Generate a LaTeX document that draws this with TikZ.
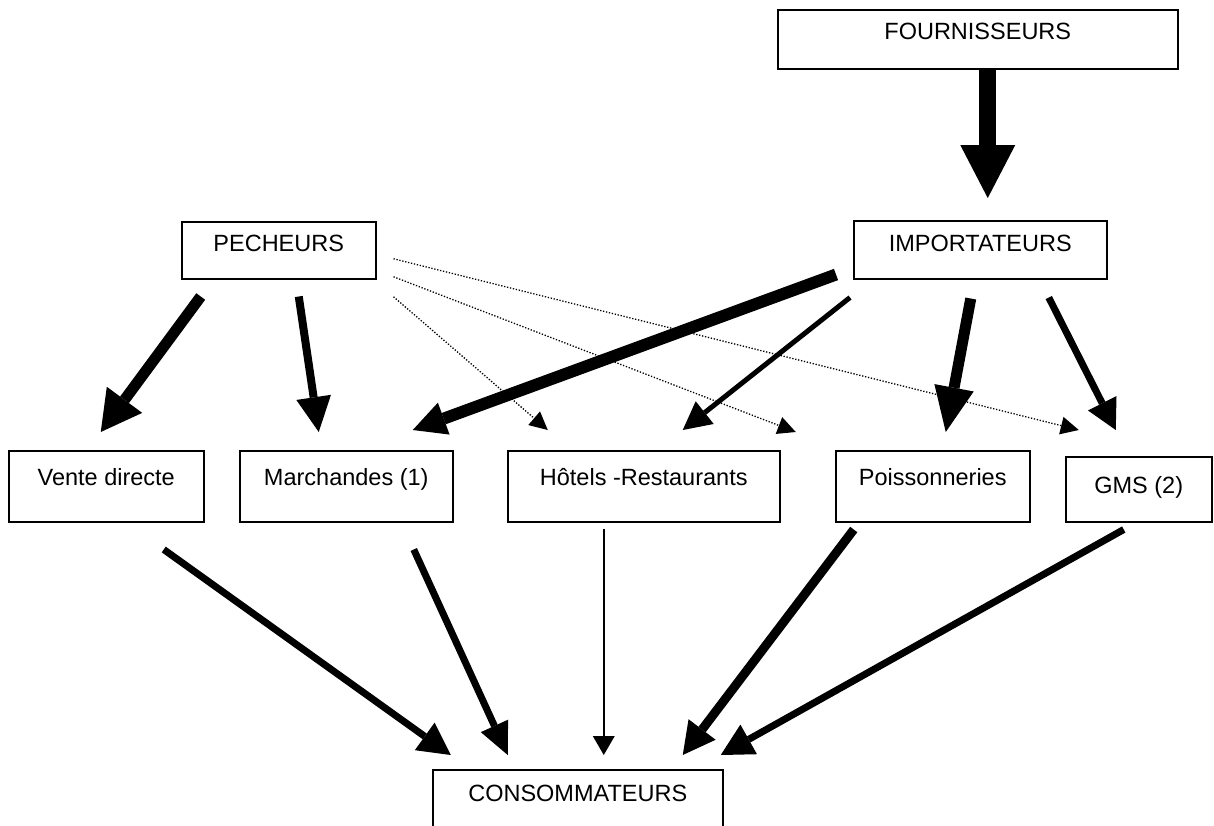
\documentclass[tikz,border=0pt]{standalone}
\usepackage{fontspec}
\setmainfont{Liberation Sans}
\usetikzlibrary{arrows.meta,calc}

\begin{document}
\begin{tikzpicture}[x=1pt,y=1pt,yscale=-1,xscale=1,
  box/.style={draw, line width=1.5pt, inner sep=0pt, anchor=north west, font=\fontsize{23.5}{28}\selectfont},
  flow/.style n args={3}{line width=#1pt, -{Triangle[length=#2pt,width=#3pt,line width=0pt]}},
  weak/.style={line width=1.3pt, dash pattern=on 1.3pt off 1.7pt, -{Triangle[length=18pt,width=18pt,line width=0pt]}}]
\useasboundingbox (0,0) rectangle (1214,825);

% Text Node
\node [box, minimum width=400pt, text height=29.5pt, text depth=29.5pt] (four) at (777,9) {FOURNISSEURS};
% Text Node
\node [box, minimum width=194pt, text height=29.5pt, text depth=27.5pt] (pech) at (181,221) {PECHEURS};
% Text Node
\node [box, minimum width=253pt, text height=30.5pt, text depth=27.5pt] (impo) at (853,220) {IMPORTATEURS};
% Text Node
\node [box, minimum width=195pt, text height=34.5pt, text depth=36.5pt] (vente) at (8,450) {Vente directe};
% Text Node
\node [box, minimum width=213pt, text height=34.5pt, text depth=36.5pt] (march) at (239,450) {Marchandes (1)};
% Text Node
\node [box, minimum width=272pt, text height=34.5pt, text depth=36.5pt] (hotel) at (507,450) {Hôtels -Restaurants};
% Text Node
\node [box, minimum width=194pt, text height=34.5pt, text depth=36.5pt] (poiss) at (835,450) {Poissonneries};
% Text Node
\node [box, minimum width=146pt, text height=36.5pt, text depth=28.5pt] (gms) at (1065,456) {GMS (2)};
% Text Node
\node [box, minimum width=290pt, text height=31.5pt, text depth=30.5pt] (conso) at (432,769) {CONSOMMATEURS};

%Straight Lines
\draw [flow={17}{53}{55}] ($(four.south)+(10,0)$) -- ($(impo.north)+(7.5,-22)$);

%Straight Lines
\draw [flow={11}{40}{44}] ($(pech.south)+(-78,17)$) -- ($(vente.north)+(-5.5,-18)$);
%Straight Lines
\draw [flow={8}{35}{35}] ($(pech.south)+(20,17)$) -- ($(march.north)+(-27.5,-18)$);
%Straight Lines
\draw [weak] ($(pech.east)+(17,8.5)$) -- ($(gms.north)+(-60,-26)$);
%Straight Lines
\draw [weak] ($(pech.east)+(17,26.5)$) -- ($(poiss.north)+(-137,-18)$);
%Straight Lines
\draw [weak] ($(pech.east)+(17,46.5)$) -- ($(hotel.north)+(-96,-20)$);

%Straight Lines
\draw [flow={12}{33}{34}] ($(impo.south west)+(-17,-5)$) -- ($(march.north)+(66.5,-20)$);
%Straight Lines
\draw [flow={5}{28}{29}] ($(impo.south west)+(-3,18)$) -- ($(hotel.north)+(39,-20)$);
%Straight Lines
\draw [flow={11}{45}{40}] ($(impo.south)+(-9.5,19)$) -- ($(poiss.north)+(13,-18)$);
%Straight Lines
\draw [flow={7}{30}{32}] ($(impo.south)+(68.5,18)$) -- ($(gms.north)+(-23,-26)$);

%Straight Lines
\draw [flow={7}{32}{34}] ($(vente.south)+(57.5,27)$) -- ($(conso.north)+(-127,-14)$);
%Straight Lines
\draw [flow={7}{32}{30}] ($(march.south)+(67.5,27)$) -- ($(conso.north)+(-70,-14)$);
%Straight Lines
\draw [flow={1.5}{19}{22}] ($(hotel.south)+(-40,6)$) -- ($(conso.north)+(26,-14)$);
%Straight Lines
\draw [flow={9}{32}{34}] ($(poiss.south)+(-79,7)$) -- ($(conso.north)+(105,-14)$);
%Straight Lines
\draw [flow={7}{32}{34}] ($(gms.south)+(-15,7)$) -- ($(conso.north)+(143,-14)$);

\end{tikzpicture}
\end{document}
